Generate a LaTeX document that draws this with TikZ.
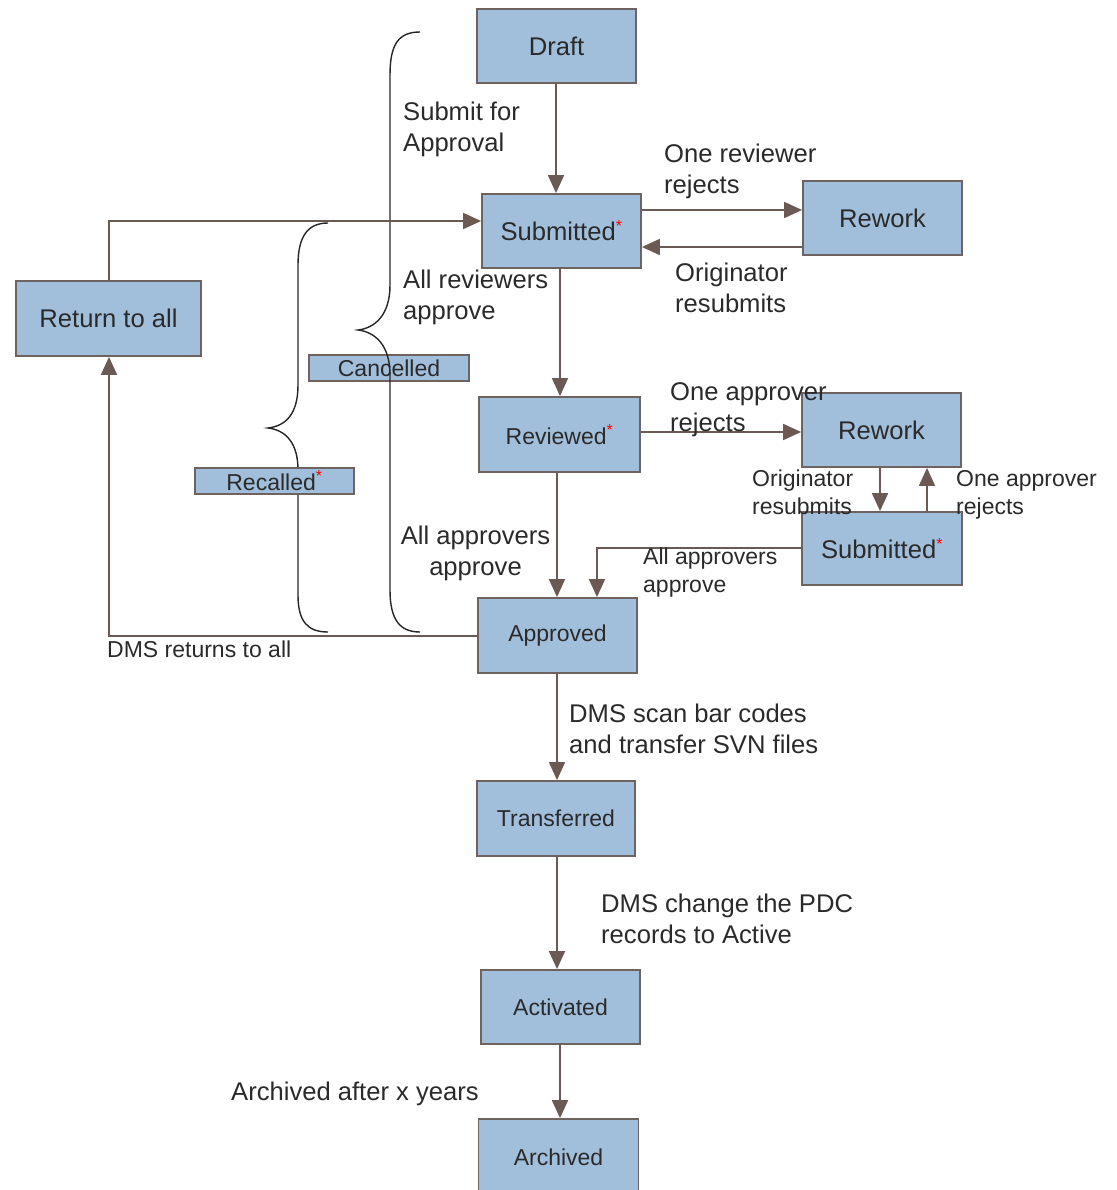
\documentclass[tikz,border=0pt]{standalone}
\usepackage{fontspec}
\setmainfont{Liberation Sans}
\usetikzlibrary{arrows.meta}
\definecolor{boxfill}{HTML}{A1BFDB}
\definecolor{boxline}{HTML}{6F6361}
\definecolor{arrcol}{HTML}{6B5A53}
\definecolor{txtcol}{HTML}{2A2A2A}
\newcommand{\bigf}{\fontsize{25.6}{31}\selectfont}
\newcommand{\smallf}{\fontsize{23}{28}\selectfont}
\newcommand{\rast}{\textsuperscript{\textcolor{red}{\fontsize{16}{16}\selectfont *}}}
\tikzset{
  stbox/.style={draw=boxline, fill=boxfill, line width=1.8pt, inner sep=0pt, text=txtcol, align=center},
  arr/.style={draw=arrcol, line width=1.8pt, -{Triangle[length=18pt,width=16pt]}},
  brc/.style={draw=black!85, line width=1.4pt},
  lbl/.style={text=txtcol, inner sep=0pt, anchor=west, align=left},
}
\begin{document}
\begin{tikzpicture}[x=1pt,y=-1pt]
\useasboundingbox (0,0) rectangle (1116,1190);
% boxes
\node[stbox, minimum width=159pt, minimum height=74pt, font=\bigf] (draft) at (556.5,46) {Draft};
\node[stbox, minimum width=159pt, minimum height=74pt, font=\bigf] (sub1) at (561.5,231) {Submitted\rast};
\node[stbox, minimum width=159pt, minimum height=74pt, font=\bigf] (rew1) at (882.5,218) {Rework};
\node[stbox, minimum width=185pt, minimum height=75pt, font=\bigf] (ret) at (108.5,318.5) {Return to all};
\node[stbox, minimum width=160pt, minimum height=26pt, font=\smallf] (canc) at (389,368) {Cancelled};
\node[stbox, minimum width=161pt, minimum height=75pt, font=\smallf] (revd) at (559.5,434.5) {Reviewed\rast};
\node[stbox, minimum width=159pt, minimum height=74pt, font=\bigf] (rew2) at (881.5,430) {Rework};
\node[stbox, minimum width=160pt, minimum height=73pt, font=\bigf] (sub2) at (882,548.5) {Submitted\rast};
\node[stbox, minimum width=159pt, minimum height=75pt, font=\smallf] (appr) at (557.5,635.5) {Approved};
\node[stbox, minimum width=158pt, minimum height=75pt, font=\smallf] (trans) at (556,818.5) {Transferred};
\node[stbox, minimum width=159pt, minimum height=74pt, font=\smallf] (activ) at (560.5,1007) {Activated};
\node[stbox, minimum width=160pt, minimum height=76pt, font=\smallf] (arch) at (558.5,1157) {Archived};
% big brace (Cancelled)
\draw[brc] (420,32) .. controls (398,32) and (390,45) .. (390,75)
  -- (390,285) .. controls (390,315) and (375,328) .. (358,330)
  .. controls (375,332) and (390,345) .. (390,375)
  -- (390,590) .. controls (390,620) and (400,632) .. (420,632);
% small brace (Recalled)
\draw[brc] (328,223) .. controls (308,223) and (298,236) .. (298,265)
  -- (298,385) .. controls (298,415) and (285,426) .. (268,428)
  .. controls (285,430) and (298,442) .. (298,470)
  -- (298,595) .. controls (298,622) and (308,632) .. (328,632);
\node[stbox, minimum width=159pt, minimum height=26pt, font=\smallf] (recl) at (274.5,481) {Recalled\rast};
% connectors
\draw[arr] (draft.south -| 556,0) -- (556,0 |- sub1.north);
\draw[arr] (sub1.east |- 0,210) -- (rew1.west |- 0,210);
\draw[arr] (rew1.west |- 0,247) -- (sub1.east |- 0,247);
\draw[arr] (560,0 |- sub1.south) -- (560,0 |- revd.north);
\draw[arr] (revd.east |- 0,432) -- (rew2.west |- 0,432);
\draw[arr] (880,0 |- rew2.south) -- (880,0 |- sub2.north);
\draw[arr] (927,0 |- sub2.north) -- (927,0 |- rew2.south);
\draw[arr] (sub2.west |- 0,548) -- (597,548) -- (597,0 |- appr.north);
\draw[arr] (557,0 |- revd.south) -- (557,0 |- appr.north);
\draw[arr] (appr.west |- 0,636) -- (109,636) -- (109,0 |- ret.south);
\draw[arr] (109,0 |- ret.north) -- (109,221) -- (sub1.west |- 0,221);
\draw[arr] (557,0 |- appr.south) -- (557,0 |- trans.north);
\draw[arr] (557,0 |- trans.south) -- (557,0 |- activ.north);
\draw[arr] (560,0 |- activ.south) -- (560,0 |- arch.north);
% labels
\node[lbl, font=\bigf] (l1) at (403,129.5) {Submit for\\Approval};
\node[lbl, font=\bigf] (l2) at (664,171.5) {One reviewer\\rejects};
\node[lbl, font=\bigf] (l3) at (675,288) {Originator\\resubmits};
\node[lbl, font=\bigf] (l4) at (403,297.5) {All reviewers\\approve};
\node[lbl, font=\bigf] (l5) at (670,409.5) {One approver\\rejects};
\node[lbl, font=\smallf] (l6) at (752,492.5) {Originator\\resubmits};
\node[lbl, font=\smallf] (l7) at (956,494.5) {One approver\\rejects};
\node[lbl, font=\smallf] (l8) at (643,572.5) {All approvers\\approve};
\node[text=txtcol, inner sep=0pt, align=center, font=\bigf] (l9) at (475.5,553.5) {All approvers\\approve};
\node[lbl, font=\smallf] (l10) at (107,649) {DMS returns to all};
\node[lbl, font=\bigf] (l11) at (569,729) {DMS scan bar codes\\and transfer SVN files};
\node[lbl, font=\bigf] (l12) at (601,919) {DMS change the PDC\\records to Active};
\node[lbl, font=\bigf] (l13) at (231,1094) {Archived after x years};
\end{tikzpicture}
\end{document}
